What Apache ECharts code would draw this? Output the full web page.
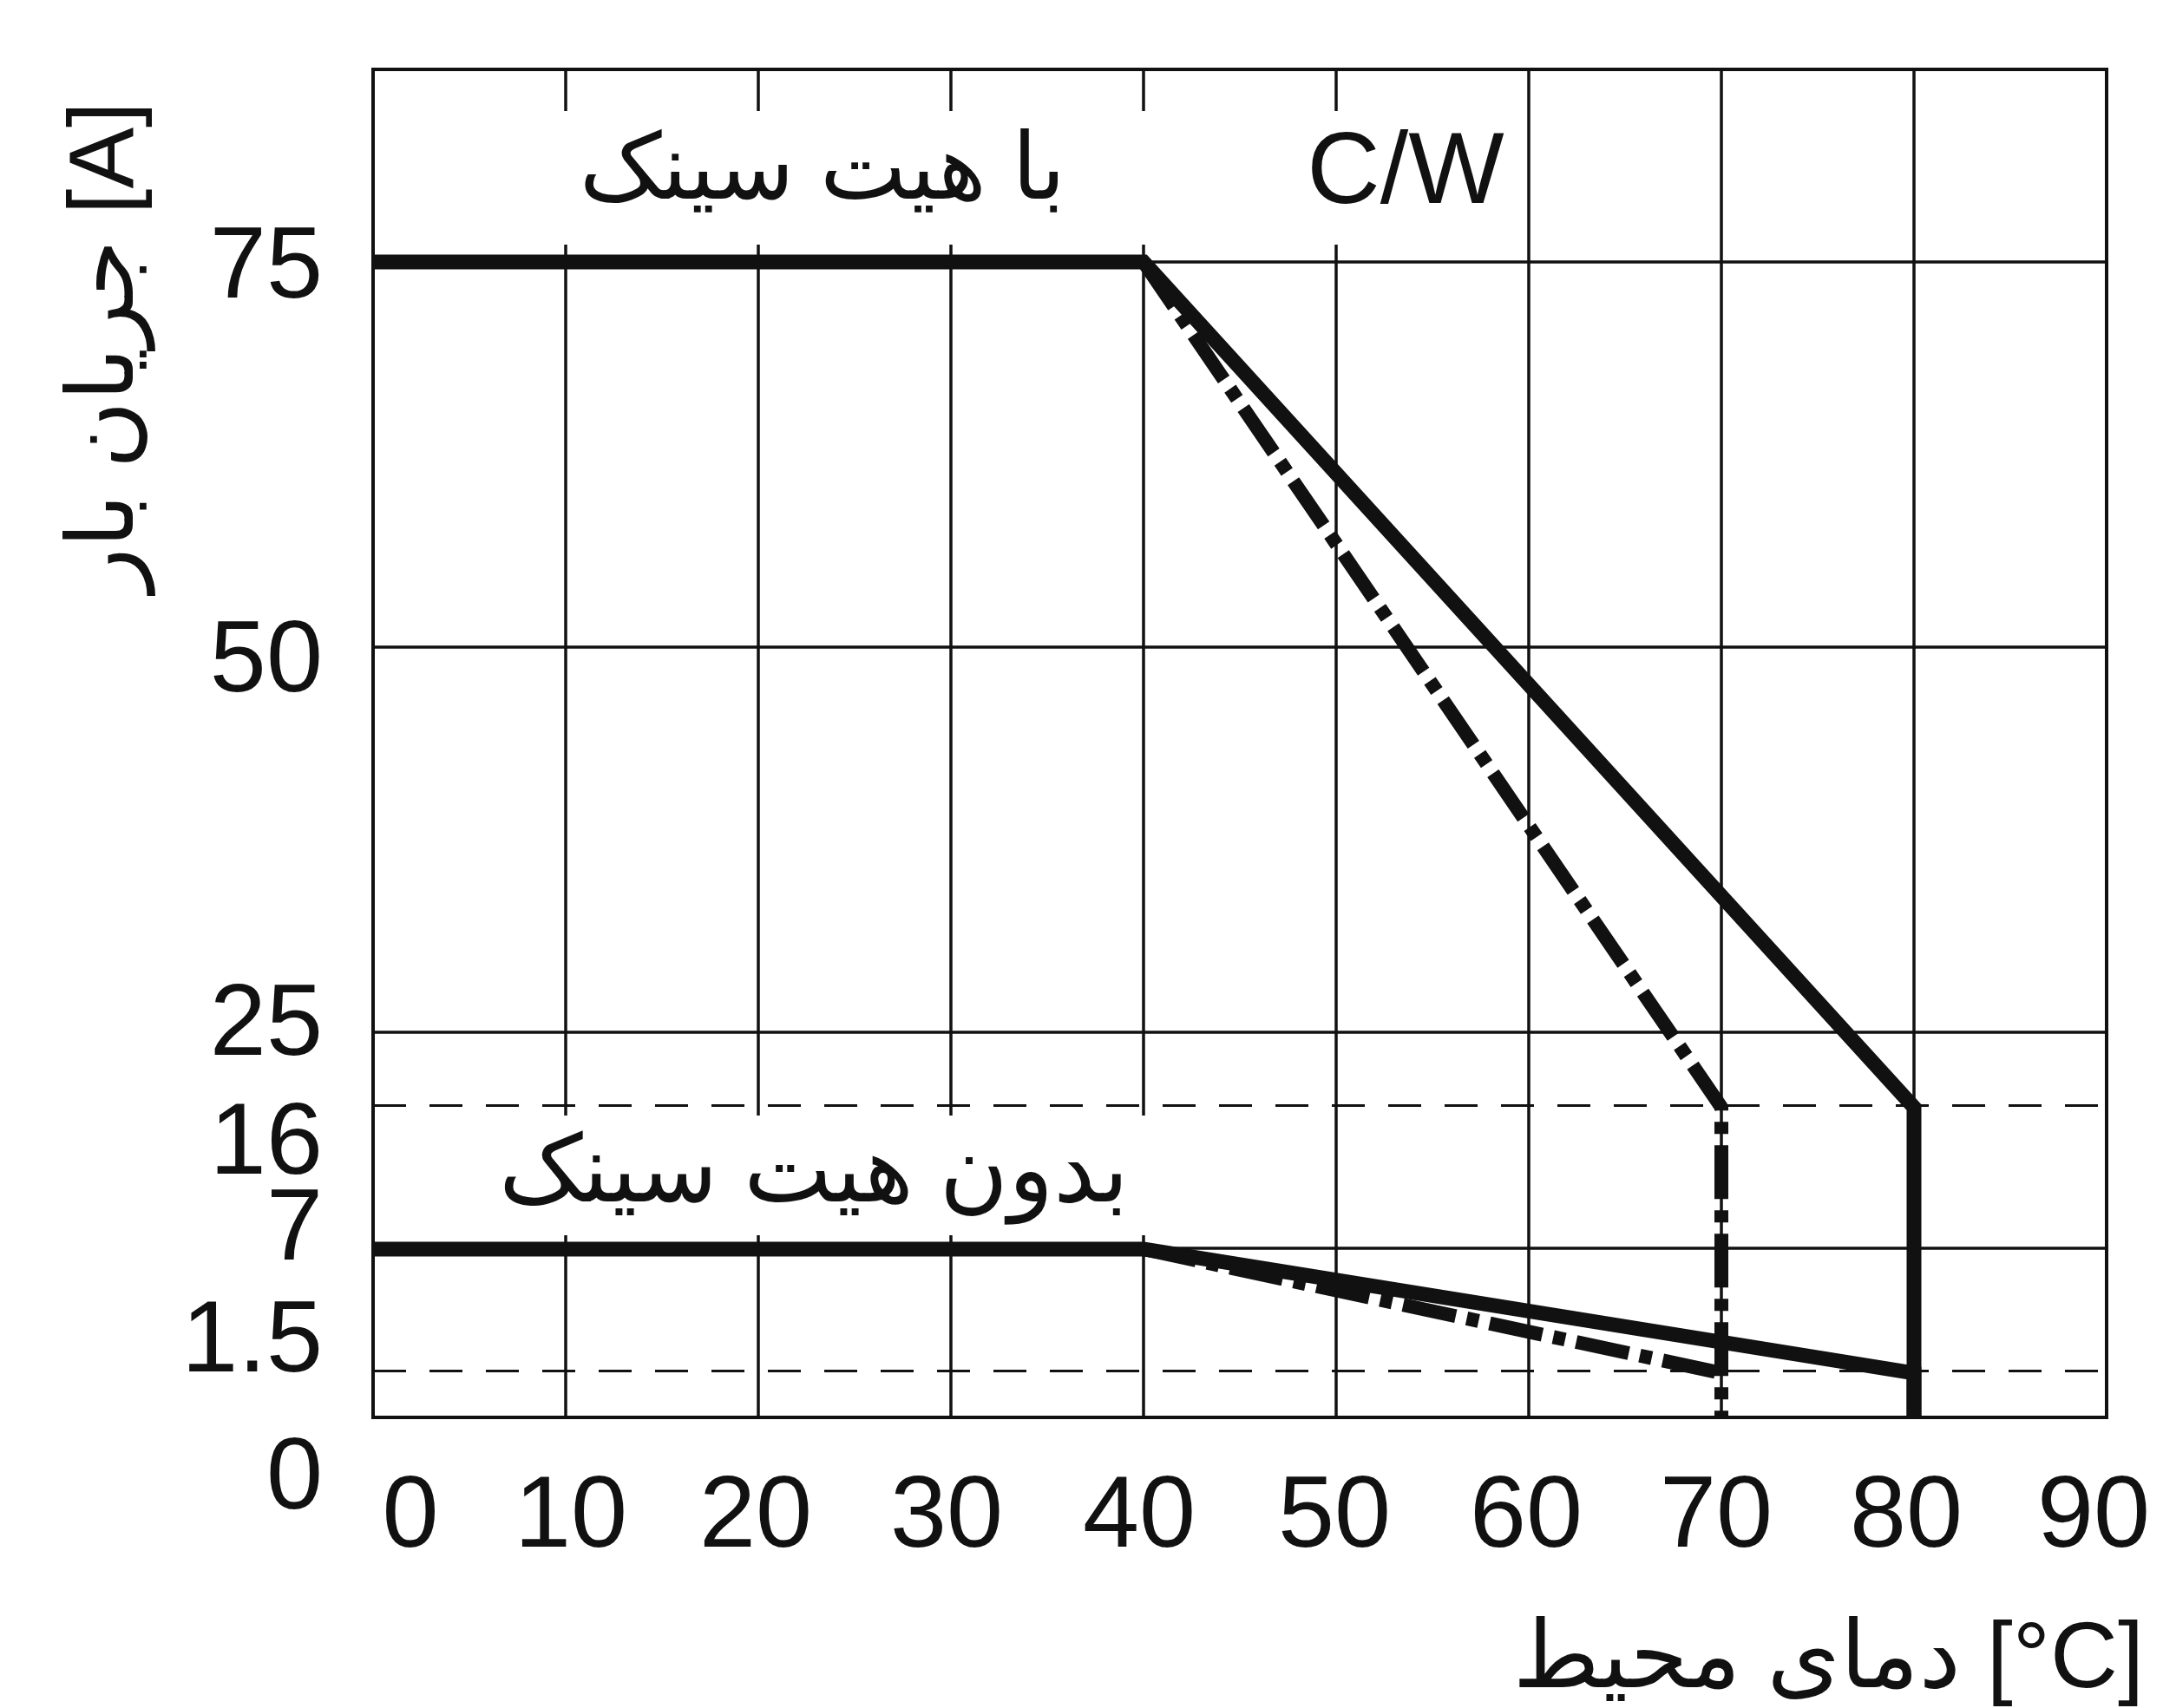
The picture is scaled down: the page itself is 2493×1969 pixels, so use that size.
<!DOCTYPE html>
<html>
<head>
<meta charset="utf-8">
<script src="https://cdn.jsdelivr.net/npm/echarts@6/dist/echarts.min.js"></script>
<style>
  html, body { margin: 0; padding: 0; background: #fff; }
  #chart { width: 2493px; height: 1969px; }
</style>
</head>
<body>
<div id="chart"></div>
<script>
// y axis is not linear: each tick value sits at its own place (in steps of 25 A)
const yScaleValues = [0, 1.5, 7, 16, 25, 50, 75, 87.5];
const yScaleStops = [0, 0.115, 0.437, 0.805, 1, 2, 3, 3.5];
const yTickValues = [0, 1.5, 7, 16, 25, 50, 75];
const yTickLabels = ["0", "1.5", "7", "16", "25", "50", "75"];
const solidGridValues = [7, 25, 50, 75];
const dashedGridValues = [1.5, 16];

// with heat sink
const withSinkTemp = [0, 40, 80, 80];
const withSinkCurrent = [75, 75, 16, 0];
const withSinkDashTemp = [40, 70, 70];
const withSinkDashCurrent = [75, 16, 0];
// without heat sink
const noSinkTemp = [0, 40, 80, 80];
const noSinkCurrent = [7, 7, 1.5, 0];
const noSinkDashTemp = [40, 70];
const noSinkDashCurrent = [7, 1.5];

// label nudges in px (as printed in the original)
const yLabelShift = [73, -34, -20, 44, -6, 19, 9];
const xLabelShift = [43, 6, -3, -5, -5, -2, -3, -6, -9, -15];

const FONT = '"Liberation Sans", "DejaVu Sans", sans-serif';
const INK = '#111';

function warp(v) {
  for (let i = 0; i < yScaleValues.length - 1; i++) {
    if (v <= yScaleValues[i + 1]) {
      const t = (v - yScaleValues[i]) / (yScaleValues[i + 1] - yScaleValues[i]);
      return yScaleStops[i] + t * (yScaleStops[i + 1] - yScaleStops[i]);
    }
  }
  return yScaleStops[yScaleStops.length - 1];
}

function pairs(xs, ys) {
  return xs.map((x, i) => [x, warp(ys[i])]);
}

function shiftPad(s, vertical) {
  if (vertical) return s >= 0 ? [2 * s, 0, 0, 0] : [0, 0, -2 * s, 0];
  return s >= 0 ? [0, 0, 0, 2 * s] : [0, -2 * s, 0, 0];
}

const yRich = {};
yLabelShift.forEach((s, i) => {
  yRich['y' + i] = { fontSize: 117, fontFamily: FONT, color: INK, padding: shiftPad(s, true) };
});
const xRich = {};
xLabelShift.forEach((s, i) => {
  xRich['x' + i] = { fontSize: 117, fontFamily: FONT, color: INK, padding: shiftPad(s, false) };
});

const chart = echarts.init(document.getElementById('chart'), null, { renderer: 'canvas' });

const curveStyle = { color: INK, width: 17, cap: 'butt', join: 'miter' };
const dashStyle = { color: INK, width: 16, cap: 'butt', type: [62, 13, 14, 13] };

let option = {
  backgroundColor: '#fff',
  animation: false,
  grid: {
    left: 430,
    top: 80,
    width: 1998,
    height: 1554,
    show: true,
    borderColor: INK,
    borderWidth: 4,
    outerBoundsMode: 'none'
  },
  xAxis: {
    type: 'value',
    min: 0,
    max: 90,
    interval: 10,
    axisLine: { show: false },
    axisTick: { show: false },
    splitLine: { show: true, lineStyle: { color: INK, width: 3.5 } },
    axisLabel: {
      margin: 58,
      fontSize: 117,
      fontFamily: FONT,
      color: INK,
      formatter: (val) => '{x' + Math.round(val / 10) + '|' + val + '}',
      rich: xRich
    }
  },
  yAxis: {
    type: 'value',
    min: 0,
    max: 3.5,
    axisLine: { show: false },
    axisTick: { show: false },
    splitLine: { show: false },
    axisLabel: {
      margin: 58,
      fontSize: 117,
      fontFamily: FONT,
      color: INK,
      customValues: yTickValues.map(warp),
      formatter: (val) => {
        let best = 0;
        yTickValues.forEach((v, i) => {
          if (Math.abs(warp(v) - val) < Math.abs(warp(yTickValues[best]) - val)) best = i;
        });
        return '{y' + best + '|' + yTickLabels[best] + '}';
      },
      rich: yRich
    }
  },
  graphic: [
    { type: 'rect', z: 3, shape: { x: 600, y: 128, width: 740, height: 154 }, style: { fill: '#fff' } },
    { type: 'rect', z: 3, shape: { x: 1480, y: 128, width: 270, height: 154 }, style: { fill: '#fff' } },
    { type: 'rect', z: 3, shape: { x: 560, y: 1286, width: 775, height: 138 }, style: { fill: '#fff' } },
    { type: 'text', z: 4, x: 948, y: 200,
      style: { text: 'با هیت سینک', font: '106px ' + FONT, fill: INK, align: 'center', verticalAlign: 'middle' } },
    { type: 'text', z: 4, x: 1620, y: 202,
      style: { text: 'C/W', font: '117px ' + FONT, fill: INK, align: 'center', verticalAlign: 'middle' } },
    { type: 'text', z: 4, x: 938, y: 1355,
      style: { text: 'بدون هیت سینک', font: '108px ' + FONT, fill: INK, align: 'center', verticalAlign: 'middle' } },
    { type: 'text', z: 4, x: 124, y: 400, rotation: Math.PI / 2,
      style: { text: 'جریان بار [A]', font: '106px ' + FONT, fill: INK, align: 'center', verticalAlign: 'middle' } },
    { type: 'text', z: 4, x: 2471, y: 1915,
      style: { text: 'دمای محیط [°C]', font: '108px ' + FONT, fill: INK, align: 'right', verticalAlign: 'middle' } }
  ],
  series: [
    {
      name: 'grid',
      type: 'line',
      data: [],
      silent: true,
      markLine: {
        z: 1,
        silent: true,
        symbol: ['none', 'none'],
        label: { show: false },
        data: solidGridValues.map(v => ({ yAxis: warp(v), lineStyle: { color: INK, width: 3.5, type: 'solid' } }))
          .concat(dashedGridValues.map(v => ({ yAxis: warp(v), lineStyle: { color: INK, width: 3, type: [38, 27] } })))
      }
    },
    { name: 'with sink', type: 'line', z: 6, symbol: 'none', lineStyle: curveStyle, data: pairs(withSinkTemp, withSinkCurrent) },
    { name: 'with sink dash', type: 'line', z: 6, symbol: 'none', lineStyle: dashStyle, data: pairs(withSinkDashTemp, withSinkDashCurrent) },
    { name: 'no sink', type: 'line', z: 6, symbol: 'none', lineStyle: curveStyle, data: pairs(noSinkTemp, noSinkCurrent) },
    { name: 'no sink dash', type: 'line', z: 6, symbol: 'none', lineStyle: dashStyle, data: pairs(noSinkDashTemp, noSinkDashCurrent) }
  ]
};

chart.setOption(option);
</script>
</body>
</html>
